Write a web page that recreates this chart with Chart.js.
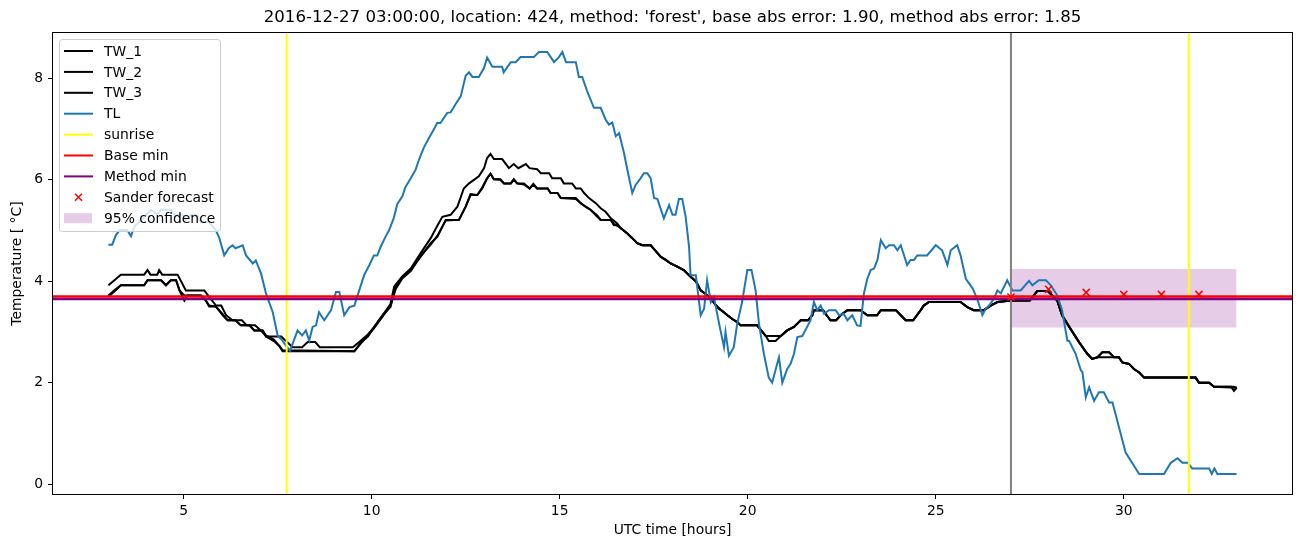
<!DOCTYPE html>
<html>
<head>
<meta charset="utf-8">
<script src="https://cdn.jsdelivr.net/npm/chart.js@4.4.1/dist/chart.umd.min.js"></script>
<style>
  html, body { margin: 0; padding: 0; background: #fff; }
  #wrap { width: 1302px; height: 547px; }
</style>
</head>
<body>
<div id="wrap"><canvas id="chart" width="1302" height="547"></canvas></div>
<script>
// Data
const xTicks = [5, 10, 15, 20, 25, 30];
const yTicks = [0, 2, 4, 6, 8];

const tlHours = [3.0, 3.1, 3.2, 3.3, 3.5, 3.6, 3.69, 3.82, 4.0, 4.13, 4.31, 4.4, 4.66, 4.75, 4.97, 5.06, 5.2, 5.33, 5.46, 5.68,
  5.86, 5.95, 6.08, 6.2, 6.3, 6.38, 6.57, 6.66, 6.84, 6.92, 7.06, 7.19, 7.37, 7.5, 7.63, 7.72, 7.83, 7.9, 8.03, 8.15,
  8.25, 8.34, 8.43, 8.52, 8.6, 8.74, 8.92, 9.05, 9.14, 9.27, 9.41, 9.54, 9.67, 9.8, 9.94, 10.06, 10.15, 10.24, 10.37, 10.46,
  10.59, 10.68, 10.82, 10.9, 11.04, 11.17, 11.26, 11.39, 11.52, 11.66, 11.74, 11.83, 12.01, 12.1, 12.23, 12.37, 12.5, 12.59, 12.68, 12.85,
  12.99, 13.07, 13.21, 13.47, 13.51, 13.7, 13.83, 13.96, 14.31, 14.45, 14.67, 14.85, 14.98, 15.07, 15.17, 15.43, 15.51, 15.6, 15.73, 15.91,
  16.09, 16.22, 16.31, 16.4, 16.49, 16.58, 16.71, 16.8, 16.93, 17.02, 17.15, 17.24, 17.33, 17.42, 17.51, 17.6, 17.77, 17.91, 18.0, 18.08,
  18.17, 18.26, 18.35, 18.44, 18.48, 18.62, 18.75, 18.84, 18.92, 19.02, 19.1, 19.24, 19.37, 19.41, 19.5, 19.63, 19.72, 19.85, 19.99, 20.1,
  20.21, 20.3, 20.43, 20.56, 20.65, 20.83, 20.92, 21.05, 21.14, 21.23, 21.32, 21.45, 21.58, 21.67, 21.76, 21.85, 21.94, 22.03, 22.16, 22.34,
  22.43, 22.55, 22.65, 22.78, 22.91, 23.0, 23.09, 23.18, 23.27, 23.36, 23.45, 23.54, 23.67, 23.76, 23.89, 23.98, 24.07, 24.24, 24.33, 24.42,
  24.51, 24.77, 25.0, 25.17, 25.31, 25.4, 25.57, 25.66, 25.8, 25.98, 26.1, 26.24, 26.33, 26.42, 26.55, 26.64, 26.73, 26.9, 27.04, 27.26,
  27.48, 27.57, 27.74, 27.93, 28.06, 28.23, 28.36, 28.5, 28.55, 28.72, 28.86, 28.9, 28.99, 29.08, 29.21, 29.34, 29.47, 29.61, 29.7, 30.05,
  30.41, 31.07, 31.25, 31.43, 31.56, 31.7, 31.82, 32.27, 32.34, 32.41, 32.49, 33.0];
const tlTemp = [4.72, 4.72, 4.91, 5.01, 5.01, 4.89, 5.08, 5.17, 5.31, 5.41, 5.31, 5.41, 5.41, 5.31, 5.31, 5.21, 5.31, 5.31, 5.17, 5.17,
  5.0, 4.85, 4.51, 4.65, 4.71, 4.65, 4.71, 4.51, 4.35, 4.41, 4.15, 3.76, 3.39, 2.93, 2.83, 2.73, 2.63, 2.77, 3.03, 2.93,
  3.03, 2.83, 3.1, 3.13, 3.39, 3.23, 3.43, 3.79, 3.79, 3.33, 3.49, 3.52, 3.82, 4.12, 4.32, 4.51, 4.51, 4.68, 4.88, 5.0,
  5.25, 5.52, 5.68, 5.86, 6.03, 6.2, 6.4, 6.64, 6.82, 7.0, 7.12, 7.12, 7.32, 7.33, 7.49, 7.65, 8.05, 8.12, 8.03, 8.03,
  8.21, 8.41, 8.23, 8.23, 8.12, 8.32, 8.32, 8.42, 8.42, 8.52, 8.52, 8.32, 8.42, 8.52, 8.32, 8.32, 8.03, 8.03, 7.75, 7.42,
  7.42, 7.19, 7.09, 7.13, 6.86, 6.92, 6.53, 6.2, 5.74, 5.9, 6.03, 6.13, 6.13, 6.03, 5.64, 5.62, 5.24, 5.5, 5.31, 5.31,
  5.62, 5.62, 5.27, 4.68, 4.12, 4.12, 3.33, 3.46, 4.02, 3.59, 3.69, 3.16, 2.7, 3.0, 2.53, 2.7, 3.16, 3.59, 4.22, 4.22,
  3.82, 3.16, 2.57, 2.1, 2.0, 2.5, 2.0, 2.27, 2.37, 2.57, 2.9, 2.92, 3.1, 3.23, 3.59, 3.43, 3.52, 3.36, 3.43, 3.43,
  3.33, 3.36, 3.23, 3.33, 3.13, 3.12, 3.76, 4.05, 4.22, 4.25, 4.42, 4.81, 4.65, 4.71, 4.71, 4.61, 4.71, 4.32, 4.42, 4.42,
  4.51, 4.51, 4.71, 4.61, 4.32, 4.61, 4.71, 4.51, 4.05, 3.86, 3.66, 3.33, 3.46, 3.52, 3.66, 3.82, 3.76, 4.02, 3.82, 3.82,
  4.01, 3.92, 4.02, 4.02, 3.92, 3.72, 3.43, 2.83, 2.82, 2.57, 2.24, 2.21, 1.71, 1.91, 1.64, 1.81, 1.81, 1.61, 1.61, 0.62,
  0.2, 0.2, 0.42, 0.51, 0.42, 0.42, 0.31, 0.31, 0.2, 0.31, 0.2, 0.2];

const tw1Hours = [3.0, 3.16, 3.33, 3.95, 4.04, 4.12, 4.3, 4.35, 4.43, 4.84, 5.06, 5.55, 5.68, 5.86, 6.0, 6.13, 6.3, 6.55, 6.68, 6.9,
  7.05, 7.2, 7.6, 7.75, 7.9, 8.15, 8.3, 8.5, 8.62, 9.5, 9.7, 9.9, 10.07, 10.29, 10.5, 10.6, 10.82, 11.04, 11.3, 11.57,
  11.75, 11.88, 12.1, 12.28, 12.45, 12.59, 12.72, 12.85, 12.99, 13.07, 13.16, 13.25, 13.47, 13.65, 13.78, 13.9, 14.1, 14.2, 14.4, 14.5,
  14.72, 14.8, 15.03, 15.11, 15.33, 15.43, 15.56, 15.65, 15.78, 15.96, 16.09, 16.22, 16.36, 16.53, 16.62, 16.8, 16.93, 17.06, 17.2, 17.42,
  17.55, 17.69, 17.82, 17.95, 18.1, 18.3, 18.48, 18.62, 18.75, 18.88, 19.02, 19.13, 19.24, 19.35, 19.46, 19.6, 19.73, 19.81, 20.25, 20.39,
  20.48, 20.56, 20.74, 20.88, 21.05, 21.23, 21.41, 21.6, 21.72, 21.76, 22.0, 22.1, 22.2, 22.35, 22.47, 22.65, 23.0, 23.18, 23.44, 23.54,
  23.94, 24.07, 24.2, 24.4, 24.6, 24.68, 24.82, 25.66, 25.84, 26.01, 26.28, 26.46, 26.64, 27.0, 27.5, 27.61, 27.7, 27.97, 28.1, 28.23,
  28.36, 28.55, 28.81, 29.03, 29.16, 29.3, 29.43, 29.61, 29.74, 29.87, 29.96, 30.14, 30.27, 30.41, 30.54, 31.91, 32.0, 32.27, 32.4, 33.0];
const tw1Temp = [3.92, 4.02, 4.13, 4.13, 4.22, 4.13, 4.13, 4.22, 4.13, 4.13, 3.82, 3.82, 3.69, 3.52, 3.52, 3.33, 3.23, 3.23, 3.13, 3.13,
  3.03, 2.91, 2.91, 2.8, 2.7, 2.7, 2.8, 2.8, 2.7, 2.7, 2.82, 2.95, 3.1, 3.33, 3.55, 3.9, 4.1, 4.25, 4.55, 4.85,
  5.1, 5.27, 5.31, 5.47, 5.83, 5.93, 6.0, 6.07, 6.23, 6.43, 6.51, 6.41, 6.41, 6.23, 6.31, 6.23, 6.31, 6.23, 6.21, 6.13,
  6.13, 6.03, 6.03, 5.93, 5.93, 5.83, 5.83, 5.74, 5.64, 5.54, 5.44, 5.37, 5.24, 5.14, 5.05, 4.94, 4.85, 4.75, 4.71, 4.71,
  4.6, 4.48, 4.42, 4.35, 4.3, 4.22, 4.09, 4.0, 3.82, 3.75, 3.66, 3.55, 3.46, 3.4, 3.33, 3.25, 3.19, 3.13, 3.13, 3.0,
  2.92, 2.92, 2.92, 2.92, 3.03, 3.1, 3.23, 3.23, 3.33, 3.43, 3.43, 3.33, 3.23, 3.23, 3.33, 3.43, 3.43, 3.33, 3.33, 3.43,
  3.43, 3.33, 3.23, 3.23, 3.43, 3.52, 3.59, 3.59, 3.49, 3.43, 3.43, 3.52, 3.59, 3.62, 3.62, 3.72, 3.81, 3.81, 3.72, 3.62,
  3.33, 3.1, 2.8, 2.57, 2.47, 2.5, 2.6, 2.6, 2.5, 2.5, 2.4, 2.37, 2.27, 2.2, 2.1, 2.1, 2.0, 2.0, 1.92, 1.9];

const tw23Hours = [3.0, 3.16, 3.33, 3.95, 4.04, 4.4, 4.53, 4.66, 4.8, 4.89, 5.02, 5.1, 5.46, 5.59, 5.68, 5.86, 6.04, 6.17, 6.38, 6.52,
  6.75, 6.88, 7.1, 7.19, 7.4, 7.55, 7.63, 9.54, 9.72, 9.9, 10.07, 10.29, 10.5, 10.64, 10.82, 11.04, 11.3, 11.57, 11.75, 11.97,
  12.32, 12.5, 12.63, 12.81, 12.94, 13.07, 13.16, 13.25, 13.42, 13.52, 13.7, 13.78, 13.87, 14.05, 14.2, 14.3, 14.4, 14.68, 14.76, 14.94,
  15.03, 15.43, 15.56, 15.69, 15.82, 16.0, 16.09, 16.36, 16.44, 16.53, 16.62, 16.8, 16.93, 17.06, 17.2, 17.42, 17.55, 17.69, 17.82, 17.95,
  18.1, 18.3, 18.48, 18.62, 18.75, 18.88, 19.02, 19.13, 19.24, 19.35, 19.46, 19.6, 19.73, 19.81, 20.25, 20.39, 20.48, 20.56, 20.74, 20.88,
  21.05, 21.23, 21.41, 21.6, 21.72, 21.76, 22.0, 22.1, 22.2, 22.35, 22.47, 22.65, 23.0, 23.18, 23.44, 23.54, 23.94, 24.07, 24.2, 24.4,
  24.6, 24.68, 24.82, 25.66, 25.84, 26.01, 26.28, 26.46, 26.64, 27.0, 27.5, 27.61, 27.7, 27.97, 28.1, 28.23, 28.36, 28.55, 28.81, 29.03,
  29.16, 29.3, 29.43, 29.61, 29.74, 29.87, 29.96, 30.14, 30.27, 30.41, 30.54, 31.91, 32.0, 32.27, 32.4, 32.85, 32.93, 33.0];
const tw2Temp = [3.72, 3.82, 3.92, 3.92, 4.02, 4.02, 3.92, 4.02, 4.02, 3.82, 3.62, 3.72, 3.72, 3.62, 3.5, 3.5, 3.33, 3.23, 3.23, 3.13,
  3.13, 3.03, 3.03, 2.91, 2.82, 2.72, 2.62, 2.62, 2.8, 2.91, 3.1, 3.33, 3.49, 3.89, 4.09, 4.22, 4.48, 4.75, 4.88, 5.21,
  5.21, 5.47, 5.7, 5.7, 5.83, 6.03, 6.12, 6.01, 6.01, 5.93, 5.93, 6.01, 5.93, 5.93, 5.83, 5.92, 5.83, 5.83, 5.74, 5.74,
  5.64, 5.64, 5.54, 5.47, 5.41, 5.27, 5.21, 5.21, 5.11, 5.1, 5.05, 4.94, 4.85, 4.75, 4.71, 4.71, 4.6, 4.48, 4.42, 4.35,
  4.3, 4.22, 4.09, 4.0, 3.82, 3.75, 3.66, 3.55, 3.46, 3.4, 3.33, 3.25, 3.19, 3.13, 3.13, 3.0, 2.92, 2.82, 2.82, 2.92,
  3.03, 3.1, 3.23, 3.23, 3.33, 3.43, 3.43, 3.33, 3.23, 3.23, 3.33, 3.43, 3.43, 3.33, 3.33, 3.43, 3.43, 3.33, 3.23, 3.23,
  3.43, 3.52, 3.59, 3.59, 3.49, 3.43, 3.43, 3.52, 3.59, 3.62, 3.62, 3.72, 3.81, 3.81, 3.72, 3.62, 3.33, 3.1, 2.8, 2.57,
  2.47, 2.5, 2.5, 2.5, 2.5, 2.5, 2.4, 2.37, 2.27, 2.2, 2.1, 2.1, 2.0, 2.0, 1.92, 1.92, 1.84, 1.9];
const tw3Temp = [3.7, 3.8, 3.92, 3.92, 4.02, 4.02, 3.92, 4.02, 4.02, 3.82, 3.72, 3.72, 3.72, 3.62, 3.52, 3.5, 3.35, 3.23, 3.23, 3.13,
  3.13, 3.03, 3.03, 2.93, 2.85, 2.72, 2.64, 2.62, 2.78, 2.93, 3.08, 3.3, 3.52, 3.85, 4.06, 4.2, 4.5, 4.72, 4.9, 5.2,
  5.21, 5.47, 5.72, 5.7, 5.85, 6.03, 6.12, 6.01, 6.0, 5.93, 5.93, 6.01, 5.93, 5.91, 5.83, 5.9, 5.83, 5.83, 5.74, 5.74,
  5.64, 5.62, 5.54, 5.47, 5.41, 5.3, 5.21, 5.21, 5.13, 5.1, 5.05, 4.94, 4.85, 4.75, 4.71, 4.71, 4.6, 4.48, 4.42, 4.35,
  4.3, 4.22, 4.09, 4.0, 3.82, 3.75, 3.66, 3.55, 3.46, 3.4, 3.33, 3.25, 3.19, 3.13, 3.13, 3.0, 2.92, 2.92, 2.92, 2.92,
  3.03, 3.1, 3.23, 3.23, 3.33, 3.43, 3.43, 3.33, 3.23, 3.23, 3.33, 3.43, 3.43, 3.33, 3.33, 3.43, 3.43, 3.33, 3.23, 3.23,
  3.43, 3.52, 3.59, 3.59, 3.49, 3.43, 3.43, 3.52, 3.59, 3.62, 3.62, 3.72, 3.81, 3.81, 3.72, 3.62, 3.33, 3.1, 2.8, 2.57,
  2.47, 2.5, 2.6, 2.6, 2.5, 2.5, 2.4, 2.37, 2.27, 2.2, 2.1, 2.1, 2.0, 2.0, 1.92, 1.92, 1.92, 1.9];

const sunriseHours = [7.74, 31.73];
const forecastHour = 27;
const baseMin = 3.70;
const methodMin = 3.65;
const sanderHours = [27, 28, 29, 30, 31, 32];
const sanderTemp = [3.69, 3.84, 3.78, 3.74, 3.74, 3.74];
const confHours = [27, 33];
const confLow = 3.09;
const confHigh = 4.24;

const titleText = "2016-12-27 03:00:00, location: 424, method: 'forest', base abs error: 1.90, method abs error: 1.85";
const X_MIN = 1.5, X_MAX = 34.5, Y_MIN = -0.215, Y_MAX = 8.915;
const FONT = "'DejaVu Sans', sans-serif";

// helpers
const pts = (xs, ys) => xs.map((x, i) => ({ x, y: ys[i] }));
const vlines = xs => xs.flatMap((x, i) => {
  const seg = [{ x, y: Y_MIN - 1 }, { x, y: Y_MAX + 1 }];
  return i < xs.length - 1 ? [...seg, { x: (x + xs[i + 1]) / 2, y: null }] : seg;
});
const hline = y => [{ x: X_MIN - 5, y }, { x: X_MAX + 5, y }];
const line = (label, data, color, width, order) => ({
  label, data, borderColor: color, backgroundColor: color, borderWidth: width,
  pointRadius: 0, tension: 0, fill: false, spanGaps: false, order
});

const legendItems = [
  { label: 'TW_1', kind: 'line', color: '#000000' },
  { label: 'TW_2', kind: 'line', color: '#000000' },
  { label: 'TW_3', kind: 'line', color: '#000000' },
  { label: 'TL', kind: 'line', color: '#1f77b4' },
  { label: 'sunrise', kind: 'line', color: '#ffff00' },
  { label: 'Base min', kind: 'line', color: '#ff0000' },
  { label: 'Method min', kind: 'line', color: '#800080' },
  { label: 'Sander forecast', kind: 'marker', color: '#ff0000' },
  { label: '95% confidence', kind: 'patch', color: 'rgba(128,0,128,0.2)' }
];

// title, axes box and matplotlib style legend
const decor = {
  id: 'decor',
  afterDraw(chart) {
    const { ctx, chartArea: a } = chart;
    ctx.save();
    ctx.strokeStyle = '#000';
    ctx.lineWidth = 1;
    ctx.strokeRect(Math.round(a.left) + 0.5, Math.round(a.top) + 0.5,
      Math.round(a.right - a.left) - 1, Math.round(a.bottom - a.top) - 1);

    ctx.fillStyle = '#000';
    ctx.font = `16.6px ${FONT}`;
    ctx.textAlign = 'center';
    ctx.textBaseline = 'middle';
    ctx.fillText(titleText, (a.left + a.right) / 2, 18);

    // legend box
    const bx = 59.5, by = 39.5, bw = 161, bh = 192, r = 3;
    ctx.beginPath();
    ctx.moveTo(bx + r, by);
    ctx.arcTo(bx + bw, by, bx + bw, by + bh, r);
    ctx.arcTo(bx + bw, by + bh, bx, by + bh, r);
    ctx.arcTo(bx, by + bh, bx, by, r);
    ctx.arcTo(bx, by, bx + bw, by, r);
    ctx.closePath();
    ctx.fillStyle = 'rgba(255,255,255,0.8)';
    ctx.fill();
    ctx.strokeStyle = '#cccccc';
    ctx.stroke();

    ctx.font = `13.9px ${FONT}`;
    ctx.textAlign = 'left';
    legendItems.forEach((it, i) => {
      const cy = 51 + i * 20.9;
      if (it.kind === 'line') {
        ctx.strokeStyle = it.color;
        ctx.lineWidth = 2;
        ctx.beginPath();
        ctx.moveTo(64, cy);
        ctx.lineTo(93, cy);
        ctx.stroke();
      } else if (it.kind === 'marker') {
        ctx.strokeStyle = it.color;
        ctx.lineWidth = 1.5;
        ctx.beginPath();
        ctx.moveTo(75, cy - 3.5); ctx.lineTo(82, cy + 3.5);
        ctx.moveTo(82, cy - 3.5); ctx.lineTo(75, cy + 3.5);
        ctx.stroke();
      } else {
        ctx.fillStyle = it.color;
        ctx.fillRect(64, cy - 5, 28, 10);
      }
      ctx.fillStyle = '#000';
      ctx.fillText(it.label, 104, cy + 1);
    });
    ctx.restore();
  }
};

new Chart(document.getElementById('chart'), {
  type: 'line',
  data: {
    datasets: [
      line('TW_1', pts(tw1Hours, tw1Temp), '#000000', 2, 9),
      line('TW_2', pts(tw23Hours, tw2Temp), '#000000', 2, 9),
      line('TW_3', pts(tw23Hours, tw3Temp), '#000000', 2, 9),
      line('TL', pts(tlHours, tlTemp), '#1f77b4', 2, 8),
      line('sunrise', vlines(sunriseHours), '#ffff00', 2, 7),
      line('forecast', vlines([forecastHour]), '#808080', 2, 7),
      line('Base min', hline(baseMin), '#ff0000', 2.5, 6),
      line('Method min', hline(methodMin), '#800080', 2.5, 5),
      {
        label: 'Sander forecast', data: pts(sanderHours, sanderTemp), showLine: false,
        pointStyle: 'crossRot', pointRadius: 5, pointBorderWidth: 1.5,
        borderColor: '#ff0000', backgroundColor: '#ff0000', order: 4
      },
      {
        label: '95% confidence', data: pts(confHours, confHours.map(() => confHigh)),
        borderWidth: 0, pointRadius: 0, fill: '+1', backgroundColor: 'rgba(128,0,128,0.2)', order: 10
      },
      {
        label: 'conf low', data: pts(confHours, confHours.map(() => confLow)),
        borderWidth: 0, pointRadius: 0, fill: false, order: 10
      }
    ]
  },
  options: {
    responsive: false,
    animation: false,
    events: [],
    layout: { padding: { left: 0, right: 9, top: 32, bottom: 0 } },
    plugins: { legend: { display: false }, title: { display: false }, tooltip: { enabled: false } },
    scales: {
      x: {
        type: 'linear', min: X_MIN, max: X_MAX,
        afterBuildTicks: s => { s.ticks = xTicks.map(v => ({ value: v })); },
        afterFit: s => { s.height = 52; },
        grid: { drawOnChartArea: false, drawTicks: true, tickLength: 4, tickColor: '#000' },
        border: { display: false },
        ticks: { color: '#000', padding: 4, maxRotation: 0, font: { family: FONT, size: 13.9 } },
        title: { display: true, text: 'UTC time [hours]', color: '#000', padding: { top: 0, bottom: 8 }, font: { family: FONT, size: 13.9 } }
      },
      y: {
        type: 'linear', min: Y_MIN, max: Y_MAX,
        afterBuildTicks: s => { s.ticks = yTicks.map(v => ({ value: v })); },
        afterFit: s => { s.width = 52; },
        grid: { drawOnChartArea: false, drawTicks: true, tickLength: 4, tickColor: '#000' },
        border: { display: false },
        ticks: { color: '#000', padding: 5, font: { family: FONT, size: 13.9 } },
        title: { display: true, text: 'Temperature [ °C]', color: '#000', padding: { top: 9, bottom: 0 }, font: { family: FONT, size: 13.9 } }
      }
    }
  },
  plugins: [decor]
});
</script>
</body>
</html>
